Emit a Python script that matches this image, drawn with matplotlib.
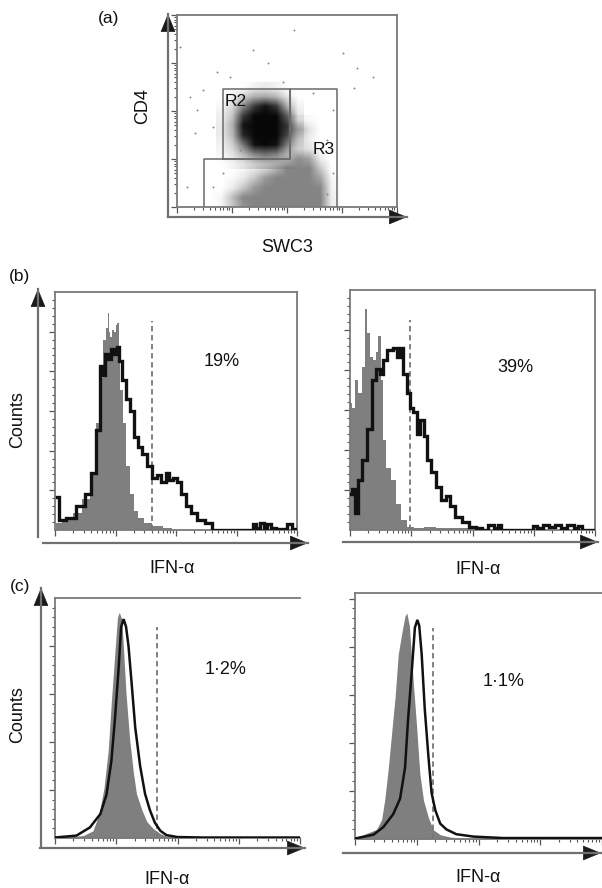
import numpy as np
import matplotlib
matplotlib.use('Agg')
import matplotlib.pyplot as plt
from matplotlib.lines import Line2D
from matplotlib.patches import FancyArrowPatch

plt.rcParams['font.family'] = ['Liberation Sans', 'DejaVu Sans']

# ---------------- DATA ----------------
# (a) dot plot, density grids in log-decade units (0..4)
gray_x = [0.6, 0.8, 1.0, 1.2, 1.4, 1.6, 1.8, 2.0, 2.2, 2.4, 2.6, 2.8, 3.0]
gray_y = [1.8, 1.6, 1.4, 1.2, 1.0, 0.8, 0.6, 0.4, 0.2, 0.0]
gray_density = [
    [0, 0, 0, 0, 0, 0, 0, .03, .08, .03, 0, 0, 0],
    [0, 0, 0, 0, 0, 0, .05, .15, .45, .15, 0, 0, 0],
    [0, 0, 0, 0, 0, 0, .04, .10, .25, .10, 0, 0, 0],
    [0, 0, 0, 0, 0, .03, .06, .10, .20, .15, .03, 0, 0],
    [0, 0, 0, 0, .03, .06, .12, .30, .60, .50, .10, 0, 0],
    [0, 0, 0, .04, .10, .20, .40, .75, .95, .90, .30, 0, 0],
    [0, 0, .03, .12, .30, .55, .80, 1, 1, 1, .50, .05, 0],
    [0, 0, .10, .30, .55, .85, 1, 1, 1, 1, .65, .08, 0],
    [0, .05, .35, .65, .90, 1, 1, 1, 1, 1, .70, .10, 0],
    [0, .05, .30, .60, .85, 1, 1, 1, 1, 1, .70, .10, 0],
]
black_x = [0.8, 1.0, 1.2, 1.4, 1.6, 1.8, 2.0, 2.2]
black_y = [2.5, 2.3, 2.1, 1.9, 1.7, 1.5, 1.3, 1.1, 0.9]
black_density = [
    [0, 0, 0, .03, .05, .03, 0, 0],
    [0, .04, .12, .20, .22, .18, .06, 0],
    [.02, .10, .30, .50, .60, .50, .20, .03],
    [.04, .15, .50, .90, 1, .90, .40, .06],
    [.05, .20, .60, 1, 1, 1, .50, .08],
    [.05, .18, .55, .95, 1, .95, .45, .06],
    [.03, .12, .35, .60, .70, .60, .30, .04],
    [.02, .07, .18, .30, .35, .30, .12, .02],
    [0, .03, .06, .10, .12, .10, .04, 0],
]
sparse_x = [0.05, 0.24, 0.48, 0.72, 1.39, 1.66, 1.93, 3.02, 3.27, 3.21, 2.12, 0.96,
            0.33, 0.66, 2.48, 2.84, 2.72, 3.57, 0.18, 0.66, 0.84, 1.15, 2.72, 2.84, 0.36]
sparse_y = [3.34, 2.30, 2.44, 2.82, 3.27, 2.99, 2.61, 3.20, 2.89, 2.47, 3.69, 2.71,
            1.54, 1.67, 2.37, 2.02, 1.40, 2.71, 0.42, 0.42, 0.70, 1.19, 0.28, 0.70, 2.02]
gate_r2_x = [0.84, 2.05, 2.05, 0.84, 0.84]
gate_r2_y = [1.0, 1.0, 2.46, 2.46, 1.0]
gate_r3_x = [0.49, 0.49, 2.05, 2.05, 2.91, 2.91]
gate_r3_y = [0.0, 1.0, 1.0, 2.46, 2.46, 0.0]

# (b) left histogram
bl_black_x = [0.03, 0.11, 0.27, 0.44, 0.55, 0.63, 0.71, 0.77, 0.81, 0.85, 0.90, 0.96, 1.00, 1.04,
              1.08, 1.14, 1.20, 1.28, 1.34, 1.40, 1.48, 1.56, 1.64, 1.72, 1.80, 1.86, 1.92, 1.98,
              2.04, 2.12, 2.20, 2.30, 2.40, 2.56, 2.64, 3.26, 3.30, 3.36, 3.42, 3.48, 3.54, 3.60,
              3.70, 3.80, 3.88, 3.94, 4.0]
bl_black_y = [42, 12, 15, 30, 45, 72, 126, 207, 195, 222, 215, 228, 222, 231,
              213, 189, 165, 150, 117, 105, 96, 81, 66, 69, 60, 72, 63, 66,
              60, 45, 30, 21, 12, 9, 0, 0, 8, 2, 9, 3, 8, 2,
              1, 1, 7, 1, 1]
bl_gray_x = [0.02, 0.22, 0.38, 0.52, 0.63, 0.71, 0.76, 0.82, 0.86, 0.88, 0.90, 0.93, 0.96, 0.99,
             1.02, 1.04, 1.06, 1.10, 1.16, 1.20, 1.28, 1.34, 1.42, 1.52, 1.68, 1.88, 2.0]
bl_gray_y = [9, 12, 21, 39, 72, 135, 192, 240, 255, 273, 250, 243, 252, 250,
             258, 261, 231, 177, 135, 81, 45, 24, 15, 9, 5, 2, 0]
bl_gate = 1.60
bl_pct = '19%'

# (b) right histogram
br_black_x = [0.00, 0.056, 0.096, 0.16, 0.24, 0.32, 0.40, 0.46, 0.52, 0.57, 0.65, 0.74, 0.79, 0.84,
              0.90, 0.95, 1.00, 1.06, 1.12, 1.18, 1.22, 1.28, 1.36, 1.44, 1.52, 1.60, 1.68, 1.76,
              1.90, 2.00, 2.12, 2.20, 2.32, 2.38, 2.44, 2.50, 2.96, 3.00, 3.10, 3.20, 3.30, 3.40,
              3.50, 3.60, 3.70, 3.76, 3.82, 4.0]
br_black_y = [45, 51, 21, 63, 87, 126, 188, 201, 195, 213, 225, 228, 216, 228,
              195, 171, 153, 147, 120, 138, 117, 87, 72, 54, 38, 42, 30, 16,
              10, 4, 2, 0, 6, 2, 6, 0, 0, 5, 3, 6, 4, 6,
              3, 6, 2, 5, 0, 0]
br_gray_x = [0.00, 0.056, 0.11, 0.16, 0.22, 0.27, 0.30, 0.35, 0.40, 0.44, 0.49, 0.52, 0.57, 0.62,
             0.71, 0.79, 0.87, 0.98, 1.10, 1.30, 1.50, 1.70, 1.90, 2.05]
br_gray_y = [159, 153, 188, 171, 204, 276, 246, 216, 213, 222, 243, 188, 113, 78,
             63, 33, 12, 4, 3, 4, 2, 3, 2, 0]
br_gate = 0.98
br_pct = '39%'

# (c) left histogram
cl_gray_x = [0.0, 0.46, 0.62, 0.72, 0.80, 0.87, 0.92, 0.98, 1.02, 1.05, 1.09, 1.12, 1.16, 1.22,
             1.28, 1.33, 1.42, 1.50, 1.60, 1.72, 1.82, 2.0, 4.0]
cl_gray_y = [0, 2.5, 7.5, 25, 52, 92, 142, 195, 230, 235, 228, 195, 150, 102,
             68, 46, 29, 17, 10, 4.5, 2, 0.5, 0]
cl_black_x = [0.0, 0.35, 0.57, 0.74, 0.84, 0.92, 0.98, 1.04, 1.08, 1.12, 1.16, 1.20, 1.25, 1.31,
              1.39, 1.47, 1.55, 1.63, 1.72, 1.82, 2.0, 2.4, 4.0]
cl_black_y = [0.5, 2.5, 11, 25, 45, 80, 125, 178, 220, 228, 220, 200, 162, 115,
              75, 46, 29, 16, 7.5, 3, 1, 0.5, 0.5]
cl_gate = 1.66
cl_pct = '1\u00b72%'

# (c) right histogram
cr_gray_x = [0.0, 0.35, 0.43, 0.48, 0.54, 0.59, 0.65, 0.70, 0.76, 0.81, 0.84, 0.88, 0.93, 1.00,
             1.05, 1.11, 1.19, 1.27, 1.38, 1.54, 1.80, 4.0]
cr_gray_y = [1, 10, 20, 40, 74, 108, 148, 192, 215, 232, 235, 222, 175, 115,
             68, 40, 22, 9.5, 4.5, 2, 0.5, 0]
cr_black_x = [0.0, 0.30, 0.46, 0.62, 0.73, 0.81, 0.86, 0.92, 0.97, 1.01, 1.04, 1.08, 1.13, 1.19,
              1.24, 1.30, 1.38, 1.48, 1.64, 1.92, 2.4, 4.0]
cr_black_y = [0.5, 4.5, 12.5, 26, 42, 74, 125, 175, 220, 228, 222, 192, 135, 85,
              48, 30, 16, 10, 5, 2.5, 1, 1]
cr_gate = 1.26
cr_pct = '1\u00b71%'

# ---------------- FIGURE ----------------
W, H = 602, 888
fig = plt.figure(figsize=(W / 100, H / 100), dpi=100)

def fx(x):
    return x / W

def fy(y):
    return 1 - y / H

def add_ax(x0, y0, x1, y1):
    return fig.add_axes([x0 / W, 1 - y1 / H, (x1 - x0) / W, (y1 - y0) / H])

def arrow(x0, y0, x1, y1):
    fig.add_artist(Line2D([fx(x0), fx(x1)], [fy(y0), fy(y1)],
                          transform=fig.transFigure, color='#707070', lw=1.6))
    dx, dy = x1 - x0, y1 - y0
    n = (dx * dx + dy * dy) ** 0.5
    sx, sy = x1 - dx / n * 12, y1 - dy / n * 12
    fig.add_artist(FancyArrowPatch((fx(sx), fy(sy)), (fx(x1), fy(y1)),
                                   transform=fig.transFigure,
                                   arrowstyle='-|>,head_length=0.8,head_width=0.33',
                                   mutation_scale=15, color='#1a1a1a', lw=0.5,
                                   shrinkA=0, shrinkB=0))

def label(x, y, s, size=13, rot=0):
    fig.text(fx(x), fy(y), s, ha='center', va='center', fontsize=size, rotation=rot,
             color='#111')

log_major = [0, 1, 2, 3, 4]
log_minor = [d + np.log10(k) for d in range(4) for k in range(2, 10)]

def style_box(ax, spines=('left', 'bottom', 'top', 'right')):
    for s in ('left', 'bottom', 'top', 'right'):
        ax.spines[s].set_visible(s in spines)
        ax.spines[s].set_color('#7a7a7a')
        ax.spines[s].set_linewidth(1.3)
    ax.set_xticks(log_major)
    ax.set_xticks(log_minor, minor=True)
    ax.tick_params(axis='both', which='major', direction='out', length=4, width=0.9,
                   color='#555', labelleft=False, labelbottom=False)
    ax.tick_params(axis='both', which='minor', direction='out', length=2.5, width=0.8,
                   color='#555')
    ax.set_facecolor('none')

# ---- (a) dot plot ----
axa = add_ax(177, 15, 397, 207)
axa.set_xlim(0, 4)
axa.set_ylim(0, 4)
style_box(axa)
axa.set_yticks(log_major)
axa.set_yticks(log_minor, minor=True)

gd = np.array(gray_density)
rgba_g = np.zeros(gd.shape + (4,))
rgba_g[..., :3] = 0.52
rgba_g[..., 3] = np.clip(gd * 1.5, 0, 1)
axa.imshow(rgba_g, extent=(gray_x[0] - 0.1, gray_x[-1] + 0.1, gray_y[-1] - 0.1, gray_y[0] + 0.1),
           origin='upper', interpolation='bilinear', aspect='auto', zorder=1)
bd = np.array(black_density)
rgba_b = np.zeros(bd.shape + (4,))
rgba_b[..., :3] = 0.03
rgba_b[..., 3] = np.clip(bd * 1.6, 0, 1)
axa.imshow(rgba_b, extent=(black_x[0] - 0.1, black_x[-1] + 0.1, black_y[-1] - 0.1, black_y[0] + 0.1),
           origin='upper', interpolation='bilinear', aspect='auto', zorder=2)
axa.scatter(sparse_x, sparse_y, s=2, color='#888', linewidths=0, zorder=2)
axa.plot(gate_r2_x, gate_r2_y, color='#6a6a6a', lw=1.1, zorder=3)
axa.plot(gate_r3_x, gate_r3_y, color='#6a6a6a', lw=1.1, zorder=3)
axa.set_xlim(0, 4)
axa.set_ylim(0, 4)

arrow(168, 217, 168, 14)
arrow(168, 217, 407, 217)
label(109, 19, '(a)', 12.5)
label(143, 106, 'CD4', 13, 90)
label(287, 247, 'SWC3', 13)
label(236, 101, 'R2', 12.5)
label(324, 149, 'R3', 12.5)

# ---- histograms ----
def hist_panel(box, ylim, gx, gy, bx, by, gate, gate_top, pct, pct_xy, lw, steps,
               spines=('left', 'bottom', 'top', 'right')):
    ax = add_ax(*box)
    ax.set_xlim(0, 4)
    ax.set_ylim(0, ylim)
    style_box(ax, spines)
    ax.set_yticks(np.arange(50, ylim, 50))
    ax.set_yticks(np.arange(10, ylim, 10), minor=True)
    ds = 'steps-mid' if steps else 'default'
    step = 'mid' if steps else None
    ax.fill_between(gx, gy, 0, color='#7f7f7f', lw=0, step=step, zorder=1)
    ax.plot(bx, by, color='#111', lw=lw, drawstyle=ds, zorder=3, solid_joinstyle='miter')
    ax.plot([gate, gate], [0, gate_top], color='#777', lw=1.3, ls=(0, (3, 2)), zorder=2)
    label(pct_xy[0], pct_xy[1], pct, 13)
    return ax

hist_panel((55, 292, 297, 530), 300, bl_gray_x, bl_gray_y, bl_black_x, bl_black_y,
           bl_gate, 264, bl_pct, (222, 362), 2.4, True)
hist_panel((350, 290, 595, 530), 300, br_gray_x, br_gray_y, br_black_x, br_black_y,
           br_gate, 262, br_pct, (515, 368), 2.4, True)
hist_panel((55, 598, 300, 838), 250, cl_gray_x, cl_gray_y, cl_black_x, cl_black_y,
           cl_gate, 220, cl_pct, (226, 669), 1.8, False, ('left', 'bottom', 'top'))
hist_panel((355, 593, 602, 839), 256, cr_gray_x, cr_gray_y, cr_black_x, cr_black_y,
           cr_gate, 220, cr_pct, (504, 681), 1.8, False, ('left', 'bottom', 'top'))

arrow(38, 537, 38, 289)
arrow(43, 543, 308, 543)
arrow(343, 542, 598, 542)
arrow(41, 847, 41, 588)
arrow(40, 848, 305, 848)
arrow(343, 853, 601, 853)

label(20, 277, '(b)', 12.5)
label(20, 586, '(c)', 12.5)
label(18, 420, 'Counts', 13, 90)
label(18, 715, 'Counts', 13, 90)
label(172, 568, 'IFN-\u03b1', 13)
label(478, 570, 'IFN-\u03b1', 13)
label(167, 879, 'IFN-\u03b1', 13)
label(478, 877, 'IFN-\u03b1', 13)

fig.savefig('out.png', dpi=100)
